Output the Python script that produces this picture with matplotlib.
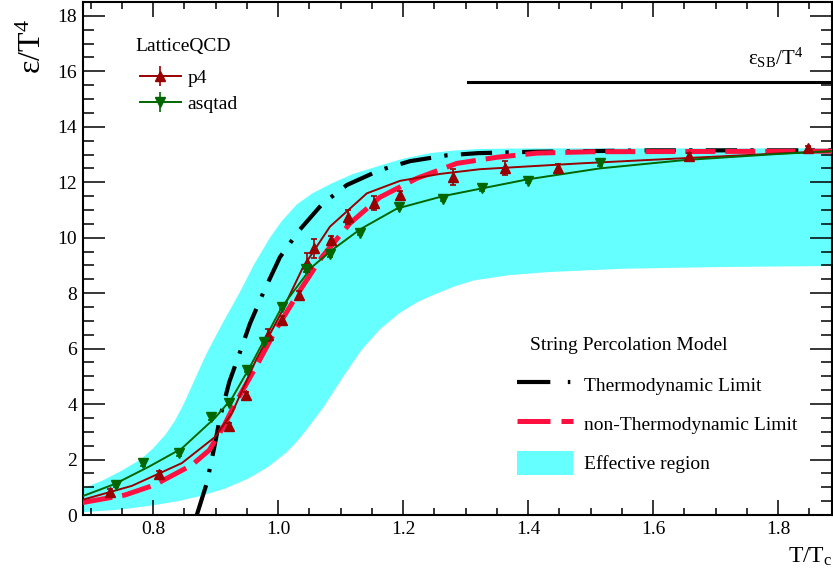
import matplotlib
matplotlib.use("Agg")
import matplotlib.pyplot as plt
import numpy as np
from matplotlib.lines import Line2D
from matplotlib.patches import Patch

plt.rcParams['font.family'] = ['Liberation Serif', 'DejaVu Serif']
plt.rcParams['mathtext.fontset'] = 'custom'
plt.rcParams['mathtext.rm'] = 'Liberation Serif'
plt.rcParams['mathtext.it'] = 'Liberation Serif:italic'

# ---------------- data ----------------
# effective region (band) boundaries
band_up_x = [0.6875, 0.72, 0.75, 0.78, 0.80, 0.82, 0.835, 0.848, 0.86, 0.873, 0.886,
             0.912, 0.938, 0.962, 0.987, 1.006, 1.03, 1.055, 1.086, 1.12, 1.163,
             1.2, 1.243, 1.28, 1.32, 1.4, 1.6, 1.886]
band_up_y = [0.95, 1.25, 1.6, 2.0, 2.4, 2.9, 3.4, 3.95, 4.55, 5.2, 5.84,
             6.95, 8.0, 9.05, 10.0, 10.6, 11.2, 11.6, 11.96, 12.3, 12.6,
             12.85, 13.05, 13.14, 13.2, 13.22, 13.22, 13.22]
band_lo_x = [0.6875, 0.75, 0.80, 0.84, 0.875, 0.915, 0.953, 0.985, 1.013, 1.028, 1.043,
             1.073, 1.103, 1.133, 1.163, 1.193, 1.223, 1.253, 1.283, 1.313, 1.37,
             1.432, 1.552, 1.7, 1.886]
band_lo_y = [0.1, 0.2, 0.35, 0.5, 0.68, 0.95, 1.32, 1.75, 2.25, 2.6, 3.0,
             3.9, 4.95, 5.94, 6.7, 7.26, 7.68, 7.98, 8.25, 8.46, 8.65,
             8.76, 8.88, 8.94, 8.98]

# string percolation model: thermodynamic limit
thermo_x = [0.870, 0.886, 0.898, 0.907, 0.922, 0.939, 0.955, 0.978, 1.003, 1.034,
            1.070, 1.110, 1.162, 1.211, 1.270, 1.320, 1.410, 1.600, 1.886]
thermo_y = [0.0, 1.15, 2.45, 3.5, 4.8, 5.87, 6.9, 8.1, 9.3, 10.27,
            11.2, 11.9, 12.43, 12.76, 12.97, 13.05, 13.1, 13.15, 13.15]

# non-thermodynamic limit
nonthermo_x = [0.6875, 0.755, 0.802, 0.862, 0.89, 0.914, 0.931, 0.966, 0.998, 1.035,
               1.07, 1.115, 1.163, 1.222, 1.286, 1.35, 1.414, 1.5, 1.886]
nonthermo_y = [0.45, 0.72, 1.08, 1.8, 2.34, 3.24, 4.0, 5.4, 6.74, 8.1,
               9.3, 10.52, 11.46, 12.14, 12.68, 12.9, 13.05, 13.1, 13.12]

# lattice QCD p4
p4_x = [0.731, 0.81, 0.922, 0.949, 0.984, 1.006, 1.034, 1.046, 1.058, 1.085,
        1.112, 1.154, 1.195, 1.28, 1.363, 1.448, 1.658, 1.848]
p4_y = [0.83, 1.48, 3.2, 4.32, 6.49, 7.03, 7.93, 9.1, 9.62, 9.9,
        10.74, 11.24, 11.53, 12.18, 12.5, 12.5, 12.94, 13.22]
p4_err = [0.1, 0.1, 0.12, 0.12, 0.2, 0.15, 0.15, 0.35, 0.35, 0.15,
          0.25, 0.25, 0.15, 0.28, 0.25, 0.15, 0.1, 0.1]
p4_fit_x = [0.6875, 0.766, 0.846, 0.899, 0.926, 0.965, 1.003, 1.04, 1.083, 1.142,
            1.195, 1.259, 1.323, 1.483, 1.643, 1.803, 1.886]
p4_fit_y = [0.55, 1.05, 1.87, 2.81, 3.67, 5.6, 7.2, 8.94, 10.4, 11.6,
            12.05, 12.3, 12.47, 12.68, 12.86, 13.04, 13.12]

# lattice QCD asqtad
asq_x = [0.741, 0.784, 0.842, 0.893, 0.921, 0.951, 0.978, 1.007, 1.045, 1.083,
         1.131, 1.194, 1.264, 1.326, 1.40, 1.515]
asq_y = [1.08, 1.86, 2.22, 3.52, 4.04, 5.22, 6.23, 7.5, 8.86, 9.4,
         10.18, 11.12, 11.39, 11.78, 12.04, 12.68]
asq_err = [0.08] * len(asq_x)
asq_fit_x = [0.6875, 0.739, 0.794, 0.846, 0.899, 0.926, 0.954, 1.006, 1.054, 1.086,
             1.131, 1.19, 1.264, 1.398, 1.515, 1.65, 1.8, 1.886]
asq_fit_y = [0.68, 1.12, 1.75, 2.4, 3.5, 4.2, 5.3, 7.5, 8.94, 9.55,
             10.3, 11.05, 11.5, 12.1, 12.5, 12.8, 13.02, 13.12]

# Stefan-Boltzmann limit
sb_x = [1.304, 1.886]
sb_y = [15.6, 15.6]

x_ticks = [0.8, 1.0, 1.2, 1.4, 1.6, 1.8]
x_ticklabels = ['0.8', '1.0', '1.2', '1.4', '1.6', '1.8']
y_ticks = [0, 2, 4, 6, 8, 10, 12, 14, 16, 18]

# ---------------- colours ----------------
c_band = '#66FFFF'
c_p4 = '#990000'
c_asq = '#006600'
c_red = '#FF1040'

W, H = 833, 571
fig = plt.figure(figsize=(W / 100, H / 100), dpi=100)
ax = fig.add_axes([82.7 / W, 56 / H, (832 - 82.7) / W, 513 / H])

# band
poly_x = band_up_x + band_lo_x[::-1]
poly_y = band_up_y + band_lo_y[::-1]
ax.fill(poly_x, poly_y, color=c_band, lw=0, zorder=1)

# thermodynamic limit
ax.plot(thermo_x, thermo_y, color='black', lw=3.0, dashes=(7.5, 3.2, 0.8, 3.2),
        zorder=2, solid_capstyle='butt', dash_capstyle='butt')
# non-thermodynamic limit
ax.plot(nonthermo_x, nonthermo_y, color=c_red, lw=3.6, dashes=(6, 2), zorder=3,
        dash_capstyle='butt')
# fits
ax.plot(p4_fit_x, p4_fit_y, color=c_p4, lw=1.4, zorder=4)
ax.plot(asq_fit_x, asq_fit_y, color=c_asq, lw=1.4, zorder=4)
# data
ax.errorbar(p4_x, p4_y, yerr=p4_err, fmt='^', color=c_p4, ms=7, capsize=2.5,
            elinewidth=1.2, capthick=1.2, zorder=5)
ax.errorbar(asq_x, asq_y, yerr=asq_err, fmt='v', color=c_asq, ms=7, capsize=2.5,
            elinewidth=1.2, capthick=1.2, zorder=5)
# SB line
ax.plot(sb_x, sb_y, color='black', lw=2.2, zorder=3)
ax.text(1.795, 16.05, r'$\mathrm{ε_{SB}/T^{4}}$', fontsize=15, ha='center', va='bottom')

ax.set_xlim(0.6875, 1.886)
ax.set_ylim(0, 18.5)
ax.set_xticks(x_ticks)
ax.set_xticklabels(x_ticklabels)
ax.set_yticks(y_ticks)
ax.xaxis.set_minor_locator(matplotlib.ticker.MultipleLocator(0.05))
ax.yaxis.set_minor_locator(matplotlib.ticker.MultipleLocator(0.5))
ax.tick_params(axis='x', which='major', direction='in', length=11, width=1.1,
               top=True, labelsize=14, pad=4)
ax.tick_params(axis='x', which='minor', direction='in', length=5, width=1.1, top=True)
ax.tick_params(axis='y', which='major', direction='in', length=16, width=1.1,
               right=True, labelsize=14, pad=4)
ax.tick_params(axis='y', which='minor', direction='in', length=8, width=1.1, right=True)
for s in ax.spines.values():
    s.set_linewidth(1.5)

fig.text(33 / W, 1 - 19 / H, r'$\mathrm{ε/T^{4}}$', fontsize=23, rotation=90,
         ha='center', va='top')
fig.text(832 / W, 1 - 563 / H, r'$\mathrm{T/T_{c}}$', fontsize=17, ha='right',
         va='baseline')

# legend 1
fig.text(135 / W, 1 - 47 / H, 'LatticeQCD', fontsize=14, ha='left', va='center')
h_p4 = ax.errorbar([], [], yerr=[], fmt='^-', color=c_p4, ms=7, capsize=2.5, lw=1.4,
                   elinewidth=1.2, capthick=1.2)
h_asq = ax.errorbar([], [], yerr=[], fmt='v-', color=c_asq, ms=7, capsize=2.5, lw=1.4,
                    elinewidth=1.2, capthick=1.2)
leg1 = ax.legend([h_p4, h_asq], ['p4', 'asqtad'], loc='upper left',
                 bbox_to_anchor=(140 / W, 1 - 69 / H), bbox_transform=fig.transFigure,
                 frameon=False, fontsize=14, borderpad=0, borderaxespad=0,
                 handlelength=2.1, handletextpad=0.35, labelspacing=0.45)
ax.add_artist(leg1)

# legend 2
fig.text(530 / W, 1 - 345 / H, 'String Percolation Model', fontsize=14, ha='left',
         va='center')
h_th = Line2D([], [], color='black', lw=3.0, dashes=(8.0, 4.2, 0.6, 2))
h_nt = Line2D([], [], color=c_red, lw=3.6, dashes=(6.6, 2.2))
h_band = Patch(facecolor=c_band, edgecolor='none')
leg2 = ax.legend([h_th, h_nt, h_band],
                 ['Thermodynamic Limit', 'non-Thermodynamic Limit', 'Effective region'],
                 loc='upper left', bbox_to_anchor=(517 / W, 1 - 373 / H),
                 bbox_transform=fig.transFigure, frameon=False, fontsize=14,
                 borderpad=0, borderaxespad=0, handlelength=2.9, handleheight=1.5,
                 handletextpad=0.55, labelspacing=0.78)

fig.savefig('out.png', dpi=100)
